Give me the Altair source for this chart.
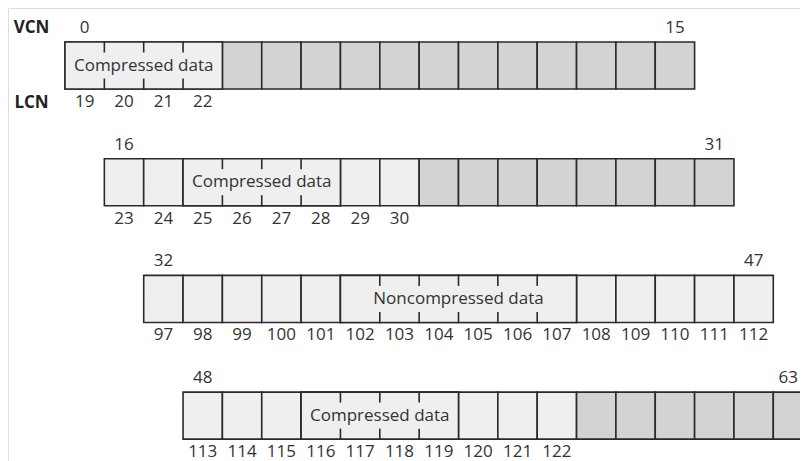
import altair as alt
import pandas as pd

# ---- data ----
row_first_vcn = [0, 16, 32, 48]
cells_per_row = 16
row_lcns = [
    [19, 20, 21, 22],
    [23, 24, 25, 26, 27, 28, 29, 30],
    [97, 98, 99, 100, 101, 102, 103, 104, 105, 106, 107, 108, 109, 110, 111, 112],
    [113, 114, 115, 116, 117, 118, 119, 120, 121, 122],
]
unit_first_vcn = [0, 18, 37, 51]
unit_cells = [4, 4, 6, 4]
unit_text = ["Compressed data", "Compressed data", "Noncompressed data", "Compressed data"]
axis_titles = ["VCN", "LCN"]

# ---- layout ----
W, H = 792, 453
PX_X, PX_Y = 39.35, 116.7
XMIN = -57 / PX_X
XMAX = XMIN + W / PX_X
YMIN = -34 / PX_Y
CELL_H = 0.403
TICK = 0.09
FONT = "Open Sans"
FS = 17
HALF_DIGIT = 0.572 * FS / 2 / PX_X  # half width of one digit, in cell units

cells = []
for r, first in enumerate(row_first_vcn):
    for c in range(cells_per_row):
        vcn = first + c
        lcn = row_lcns[r][c] if c < len(row_lcns[r]) else None
        vtxt = str(vcn) if c in (0, cells_per_row - 1) else ""
        xc = c + r + 0.5
        lx = min(xc, XMAX - 0.05 - HALF_DIGIT * len(vtxt)) if vtxt else xc
        cells.append({
            "row": r, "vcn": vcn, "x0": c + r, "x1": c + r + 1, "xc": xc, "lx": lx,
            "y0": r, "y1": r + CELL_H,
            "lcn": "" if lcn is None else str(lcn),
            "state": "used" if lcn is not None else "free",
            "vlabel": vtxt,
        })
cells = pd.DataFrame(cells)

units, ticks = [], []
for u, (fv, n, t) in enumerate(zip(unit_first_vcn, unit_cells, unit_text)):
    r = fv // cells_per_row
    x0 = fv % cells_per_row + r
    units.append({"x0": x0, "x1": x0 + n, "xc": x0 + n / 2, "y0": r, "y1": r + CELL_H,
                  "ym": r + CELL_H / 2, "text": t})
    for k in range(1, n):
        ticks.append({"x": x0 + k, "y0": r, "y1": r + TICK})
        ticks.append({"x": x0 + k, "y0": r + CELL_H - TICK, "y1": r + CELL_H})
units = pd.DataFrame(units)
ticks = pd.DataFrame(ticks)
titles = pd.DataFrame({"t": axis_titles, "x": [-0.85, -0.85], "y": [0, CELL_H]})

xs = alt.Scale(domain=[XMIN, XMAX], nice=False, zero=False)
ys = alt.Scale(domain=[YMIN, YMIN + H / PX_Y], nice=False, zero=False, reverse=True)

STROKE = "#2a2a2a"
TXT = "#333333"

base = alt.Chart(cells)
rects = base.mark_rect(stroke=STROKE, strokeWidth=1.6, clip=True).encode(
    x=alt.X("x0:Q", scale=xs, axis=None), x2="x1:Q",
    y=alt.Y("y0:Q", scale=ys, axis=None), y2="y1:Q",
    fill=alt.Fill("state:N", scale=alt.Scale(domain=["used", "free"],
                                              range=["#efefef", "#d3d3d3"]), legend=None),
)
vlab = base.transform_filter("datum.vlabel != ''").mark_text(
    font=FONT, fontSize=FS, color=TXT, baseline="middle", dy=-14
).encode(x=alt.X("lx:Q", scale=xs), y=alt.Y("y0:Q", scale=ys), text="vlabel:N")
llab = base.transform_filter("datum.lcn != ''").mark_text(
    font=FONT, fontSize=FS, color=TXT, baseline="middle", dy=13
).encode(x=alt.X("xc:Q", scale=xs), y=alt.Y("y1:Q", scale=ys), text="lcn:N")

ub = alt.Chart(units)
urect = ub.mark_rect(fill="#efefef", stroke=STROKE, strokeWidth=1.6).encode(
    x=alt.X("x0:Q", scale=xs), x2="x1:Q", y=alt.Y("y0:Q", scale=ys), y2="y1:Q")
utext = ub.mark_text(font=FONT, fontSize=FS, color=TXT, baseline="middle").encode(
    x=alt.X("xc:Q", scale=xs), y=alt.Y("ym:Q", scale=ys), text="text:N")
trule = alt.Chart(ticks).mark_rule(stroke=STROKE, strokeWidth=1.6).encode(
    x=alt.X("x:Q", scale=xs), y=alt.Y("y0:Q", scale=ys), y2="y1:Q")

tb = alt.Chart(titles)
tt_top = tb.transform_filter("datum.t == 'VCN'").mark_text(
    font=FONT, fontSize=FS, fontWeight="bold", color="#222222", baseline="middle", dy=-14
).encode(x=alt.X("x:Q", scale=xs), y=alt.Y("y:Q", scale=ys), text="t:N")
tt_bot = tb.transform_filter("datum.t == 'LCN'").mark_text(
    font=FONT, fontSize=FS, fontWeight="bold", color="#222222", baseline="middle", dy=14
).encode(x=alt.X("x:Q", scale=xs), y=alt.Y("y:Q", scale=ys), text="t:N")

chart = alt.layer(rects, urect, trule, utext, vlab, llab, tt_top, tt_bot).properties(
    width=W, height=H, padding=0, autosize=alt.AutoSizeParams(type="none")
).configure_view(strokeWidth=0, stroke="transparent").configure(background="white")

chart.save("out.html", embed_options={"renderer": "svg", "actions": False})
